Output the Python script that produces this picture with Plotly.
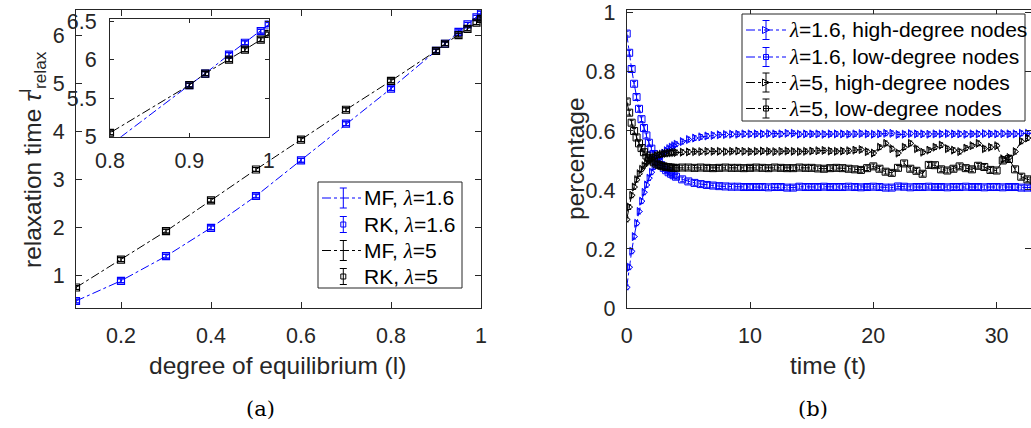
import plotly.graph_objects as go

W, H = 1031, 428
BLUE = "#0000FF"
BLACK = "#000000"
AX = "#262626"
FONT = "Liberation Sans, Arial, sans-serif"

# ---------------- panel (a) data ----------------
equil = [0.1, 0.2, 0.3, 0.4, 0.5, 0.6, 0.7, 0.8, 0.9, 0.92, 0.95, 0.97, 0.99, 1.0]
relax_l16 = [0.48, 0.90, 1.41, 2.00, 2.66, 3.40, 4.16, 4.89, 5.67, 5.82, 6.066, 6.22, 6.37, 6.457]
relax_l5 = [0.76, 1.34, 1.93, 2.57, 3.21, 3.83, 4.45, 5.05, 5.67, 5.82, 6.00, 6.13, 6.26, 6.335]
legend_a = ["MF, λ=1.6", "RK, λ=1.6", "MF, λ=5", "RK, λ=5"]

# ---------------- panel (b) data ----------------
time_t = [0, 0.2, 0.4, 0.6, 0.8, 1.0, 1.2, 1.4, 1.6, 1.8, 2.0, 2.2, 2.4, 2.6, 2.8, 3.0,
          3.2, 3.4, 3.6, 3.8, 4.0, 4.5, 5, 5.5, 6, 6.5, 7, 7.5, 8, 8.5, 9, 9.5, 10, 10.5,
          11, 11.5, 12, 12.5, 13, 13.5, 14, 14.5, 15, 15.5, 16, 16.5, 17, 17.5, 18, 18.5,
          19, 19.5, 20, 20.5, 21, 21.5, 22, 22.5, 23, 23.5, 24, 24.5, 25, 25.5, 26, 26.5,
          27, 27.5, 28, 28.5, 29, 29.5, 30, 30.5, 31, 31.5, 32, 32.5, 33]

l16_low = [0.93, 0.865, 0.81, 0.76, 0.715, 0.675, 0.64, 0.61, 0.585, 0.56, 0.54, 0.522,
           0.507, 0.495, 0.484, 0.475, 0.467, 0.46, 0.455, 0.45, 0.445,
           0.436, 0.429, 0.424, 0.420, 0.417, 0.415, 0.413, 0.412, 0.411, 0.411, 0.410,
           0.410, 0.410, 0.410, 0.409, 0.410, 0.410, 0.408, 0.408, 0.411, 0.410, 0.410,
           0.410, 0.411, 0.410, 0.410, 0.410, 0.411, 0.410, 0.409, 0.410, 0.411, 0.410,
           0.408, 0.408, 0.412, 0.411, 0.409, 0.410, 0.410, 0.411, 0.410, 0.410, 0.409,
           0.410, 0.410, 0.411, 0.410, 0.410, 0.409, 0.410, 0.410, 0.409, 0.410, 0.410,
           0.408, 0.408, 0.409]
l16_high = [0.07, 0.138, 0.192, 0.242, 0.287, 0.327, 0.362, 0.392, 0.417, 0.44, 0.46, 0.478,
            0.493, 0.505, 0.516, 0.525, 0.533, 0.54, 0.545, 0.55, 0.555,
            0.564, 0.571, 0.576, 0.580, 0.583, 0.585, 0.587, 0.588, 0.589, 0.589, 0.590,
            0.590, 0.590, 0.590, 0.591, 0.590, 0.590, 0.592, 0.592, 0.589, 0.590, 0.590,
            0.590, 0.589, 0.590, 0.590, 0.590, 0.589, 0.590, 0.591, 0.590, 0.589, 0.590,
            0.592, 0.592, 0.588, 0.589, 0.591, 0.590, 0.590, 0.589, 0.590, 0.590, 0.591,
            0.590, 0.590, 0.589, 0.590, 0.590, 0.591, 0.590, 0.590, 0.591, 0.590, 0.590,
            0.592, 0.592, 0.591]
l5_low = [0.70, 0.662, 0.628, 0.60, 0.578, 0.558, 0.542, 0.528, 0.517, 0.508, 0.50, 0.494,
          0.489, 0.485, 0.482, 0.48, 0.478, 0.477, 0.476, 0.475, 0.475,
          0.476, 0.476, 0.475, 0.476, 0.475, 0.474, 0.475, 0.476, 0.475, 0.475, 0.474,
          0.475, 0.476, 0.475, 0.474, 0.476, 0.475, 0.474, 0.474, 0.476, 0.475, 0.475,
          0.473, 0.472, 0.474, 0.475, 0.474,
          0.472, 0.470, 0.468, 0.474, 0.480, 0.472, 0.462, 0.458, 0.475, 0.490, 0.472,
          0.465, 0.455, 0.485, 0.484, 0.470, 0.466, 0.472, 0.480, 0.474, 0.470, 0.482,
          0.478, 0.468, 0.466, 0.500, 0.505, 0.470, 0.445, 0.436, 0.432]
l5_high = [0.30, 0.342, 0.382, 0.41, 0.435, 0.455, 0.47, 0.482, 0.492, 0.50, 0.507, 0.512,
           0.516, 0.519, 0.521, 0.523, 0.524, 0.525, 0.526, 0.527, 0.527,
           0.528, 0.529, 0.530, 0.530, 0.531, 0.531, 0.531, 0.530, 0.531, 0.532, 0.531,
           0.530, 0.531, 0.532, 0.531, 0.530, 0.531, 0.532, 0.531, 0.530, 0.531, 0.532,
           0.533, 0.534, 0.532, 0.531, 0.532,
           0.533, 0.535, 0.537, 0.530, 0.525, 0.545, 0.558, 0.540, 0.525, 0.545, 0.558,
           0.540, 0.528, 0.535, 0.545, 0.552, 0.540, 0.535, 0.530, 0.542, 0.550, 0.558,
           0.540, 0.545, 0.550, 0.505, 0.510, 0.530, 0.565, 0.576, 0.580]
legend_b = ["λ=1.6, high-degree nodes", "λ=1.6, low-degree nodes",
            "λ=5, high-degree nodes", "λ=5, low-degree nodes"]


def pxx(x):
    return x / W


def pxy(y):
    return 1 - y / H


def styled(text):
    return text.replace("λ", "<span style='font-family:Liberation Serif'><i>λ</i></span>")


fig = go.Figure()

err_a = dict(type="constant", value=0.04, thickness=1, width=3)
err_i = dict(type="constant", value=0.025, thickness=1, width=3)
err_b = dict(type="constant", value=0.008, thickness=1, width=2)

# panel (a) main + inset
for ax, err in [("", err_a), ("3", err_i)]:
    xa, ya = "x" + ax, "y" + ax
    for vals, col, i in [(relax_l16, BLUE, 0), (relax_l5, BLACK, 2)]:
        fig.add_trace(go.Scatter(x=equil, y=vals, mode="lines", name=legend_a[i],
                                 line=dict(color=col, width=1, dash="dashdot"),
                                 error_y=dict(err, color=col), xaxis=xa, yaxis=ya,
                                 showlegend=False))
        fig.add_trace(go.Scatter(x=equil, y=vals, mode="markers", name=legend_a[i + 1],
                                 marker=dict(symbol="square-open", size=7, color=col,
                                             line=dict(width=1.2)),
                                 error_y=dict(err, color=col), xaxis=xa, yaxis=ya,
                                 showlegend=False))

# panel (b)
series_b = [
    (l16_high, BLUE, "triangle-right-open"),
    (l16_low, BLUE, "square-open"),
    (l5_high, BLACK, "triangle-right-open"),
    (l5_low, BLACK, "square-open"),
]
for (vals, col, sym), name in zip(series_b, legend_b):
    fig.add_trace(go.Scatter(x=time_t, y=vals, mode="lines+markers", name=name,
                             line=dict(color=col, width=1, dash="dashdot"),
                             marker=dict(symbol=sym, size=7, color=col, line=dict(width=1)),
                             error_y=dict(err_b, color=col), xaxis="x2", yaxis="y2",
                             showlegend=False))

axis_common = dict(showline=True, linecolor=AX, linewidth=1, ticks="inside", ticklen=6,
                   tickcolor=AX, showgrid=False, zeroline=False, automargin=False,
                   tickfont=dict(family=FONT, size=21.5, color=AX))

fig.update_layout(
    width=W, height=H, margin=dict(l=0, r=0, t=0, b=0, autoexpand=False),
    paper_bgcolor="white", plot_bgcolor="white", showlegend=False,
    xaxis=dict(axis_common, domain=[pxx(76), pxx(481)], range=[0.1, 1.0],
               tickvals=[0.2, 0.4, 0.6, 0.8, 1.0], mirror="ticks", anchor="y",
               ticklabelstandoff=8),
    yaxis=dict(axis_common, domain=[pxy(308), pxy(10)], range=[0.335, 6.52],
               tickvals=[1, 2, 3, 4, 5, 6], mirror="ticks", anchor="x",
               ticklabelstandoff=6),
    xaxis3=dict(axis_common, domain=[pxx(110), pxx(268.7)], range=[0.8, 1.0],
                tickvals=[0.8, 0.9, 1.0], mirror="ticks", anchor="y3",
                ticklabelstandoff=4, ticklen=4),
    yaxis3=dict(axis_common, domain=[pxy(136.7), pxy(18.5)], range=[5, 6.535],
                tickvals=[5, 5.5, 6, 6.5], mirror="ticks", anchor="x3",
                ticklabelstandoff=8, ticklen=4),
    xaxis2=dict(axis_common, domain=[pxx(626.7), 1.0], range=[0, 32.79],
                tickvals=[0, 10, 20, 30], mirror="ticks", anchor="y2",
                ticklabelstandoff=8),
    yaxis2=dict(axis_common, domain=[pxy(308), pxy(10)], range=[0, 1.01],
                tickvals=[0, 0.2, 0.4, 0.6, 0.8, 1], mirror="ticks", anchor="x2",
                ticklabelstandoff=6),
)

# ---------- hand-built legends (MATLAB style, with error-bar glyphs) ----------
shapes = []
annos = []


def pline(x0, y0, x1, y1, col, dash="solid", w=1):
    shapes.append(dict(type="line", xref="paper", yref="paper",
                       x0=pxx(x0), y0=pxy(y0), x1=pxx(x1), y1=pxy(y1),
                       line=dict(color=col, width=w, dash=dash), layer="above"))


def errglyph(cx, cy, half, cap, col):
    pline(cx, cy - half, cx, cy + half, col)
    pline(cx - cap, cy - half, cx + cap, cy - half, col)
    pline(cx - cap, cy + half, cx + cap, cy + half, col)


def square(cx, cy, s, col):
    shapes.append(dict(type="rect", xref="paper", yref="paper",
                       x0=pxx(cx - s), x1=pxx(cx + s), y0=pxy(cy + s), y1=pxy(cy - s),
                       line=dict(color=col, width=1), layer="above"))


def triangle(cx, cy, s, col):
    p = "M {:.5f},{:.5f} L {:.5f},{:.5f} L {:.5f},{:.5f} Z".format(
        pxx(cx - s), pxy(cy - s), pxx(cx + s), pxy(cy), pxx(cx - s), pxy(cy + s))
    shapes.append(dict(type="path", xref="paper", yref="paper", path=p,
                       line=dict(color=col, width=1), layer="above"))


def box(x0, y0, x1, y1):
    shapes.append(dict(type="rect", xref="paper", yref="paper",
                       x0=pxx(x0), x1=pxx(x1), y0=pxy(y1), y1=pxy(y0),
                       line=dict(color=AX, width=1), fillcolor="white", layer="above"))


def label(x, y, text, size=21):
    annos.append(dict(text=styled(text), x=pxx(x), y=pxy(y), xref="paper", yref="paper",
                      xanchor="left", yanchor="middle", showarrow=False,
                      font=dict(family=FONT, size=size, color="#000000")))


# legend (a)
box(318, 182, 462, 288)
rows_a = [198, 224.5, 250.5, 276.5]
cols_a = [BLUE, BLUE, BLACK, BLACK]
for i, (yy, col) in enumerate(zip(rows_a, cols_a)):
    if i % 2 == 0:
        pline(322, yy, 361, yy, col, dash="dashdot")
        errglyph(343.3, yy, 10, 3.5, col)
    else:
        square(343.3, yy, 2.5, col)
        errglyph(343.3, yy, 8, 3.5, col)
    label(362, yy, legend_a[i])

# legend (b)
box(742, 14, 1025, 121)
rows_b = [30, 57, 82.5, 108.5]
for i, (yy, (vals, col, sym)) in enumerate(zip(rows_b, series_b)):
    pline(746, yy, 786, yy, col, dash="dashdot")
    errglyph(766, yy, 9.5, 3.5, col)
    if sym.startswith("triangle"):
        triangle(766, yy, 3.5, col)
    else:
        square(766, yy, 2.5, col)
    label(787, yy, legend_b[i], size=21)

ann_font = dict(family=FONT, size=24.5, color=AX)
cap_font = dict(family="DejaVu Serif, Liberation Serif, serif", size=21, color="#000000")
titles = [
    dict(text="degree of equilibrium (l)", x=pxx(277), y=pxy(365), font=ann_font),
    dict(text="relaxation time <i>τ</i><sup>l</sup><sub>relax</sub>", x=pxx(32),
         y=pxy(160), textangle=-90, font=ann_font),
    dict(text="time (t)", x=pxx(828), y=pxy(365), font=ann_font),
    dict(text="percentage", x=pxx(575), y=pxy(159), textangle=-90, font=ann_font),
    dict(text="(a)", x=pxx(260), y=pxy(409), font=cap_font),
    dict(text="(b)", x=pxx(813), y=pxy(409), font=cap_font),
]
for a in titles:
    a.update(xref="paper", yref="paper", showarrow=False, xanchor="center",
             yanchor="middle")
    annos.append(a)

fig.update_layout(shapes=shapes, annotations=annos)

fig.write_html("out.html")
